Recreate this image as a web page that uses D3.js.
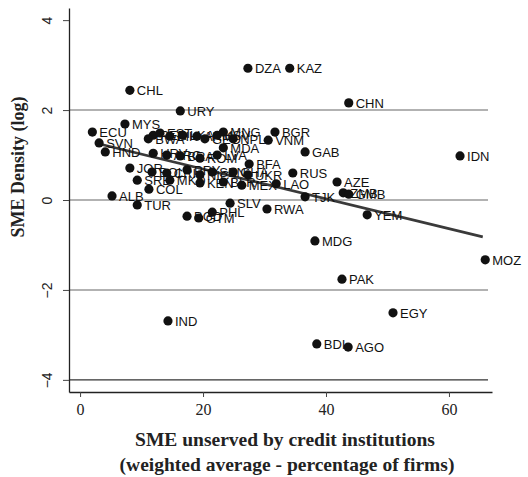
<!DOCTYPE html>
<html>
<head>
<meta charset="utf-8">
<script src="https://cdn.jsdelivr.net/npm/d3@7"></script>
<style>
  body { margin: 0; background: #fff; }
  .lbl { font-family: "Liberation Sans", Arial, sans-serif; font-size: 13px; fill: #111; }
  .ytick text { font-family: "Liberation Sans", Arial, sans-serif; font-size: 14px; fill: #222; }
  .xtick text { font-family: "Liberation Serif", serif; font-size: 16px; fill: #222; }
  .title { font-family: "Liberation Serif", "Times New Roman", serif; font-weight: bold; fill: #222; }
</style>
</head>
<body>
<svg id="chart" width="528" height="477"></svg>
<script>
//----------------
// Data
//----------------

const countries = [
  "CHL","DZA","KAZ","CHN","URY","MYS","ECU","SVN","HND","PER",
  "BWA","EST","BIH","LKA","ARM","GEO","KSV","MNG","NPL","VNM",
  "BGR","HRV","ARG","BRA","ROM","LVA","MDA","JOR","BOL","CRI",
  "PRY","NIC","SEN","GHA","BFA","UKR","RUS","SRB","MKD","KEN",
  "BLR","MEX","LAO","COL","ALB","TUR","BGD","GTM","PHL","SLV",
  "RWA","TJK","AZE","ZMB","GMB","YEM","GAB","IDN","MDG","MOZ",
  "PAK","EGY","IND","BDI","AGO"
];

// SME unserved by credit institutions (% of firms)
const unserved = [
  8.1, 27.3, 34.1, 43.7, 16.3, 7.3, 2.0, 3.1, 4.1, 11.9,
  11.1, 13.0, 14.6, 16.7, 19.0, 20.3, 22.3, 23.3, 24.9, 30.6,
  31.7, 11.9, 14.1, 16.3, 19.5, 22.3, 23.3, 8.1, 11.7, 14.1,
  17.4, 19.5, 21.5, 24.9, 27.5, 27.3, 34.6, 9.3, 14.6, 19.5,
  23.3, 26.3, 31.9, 11.2, 5.2, 9.3, 17.4, 19.3, 21.5, 24.4,
  30.4, 36.6, 41.8, 42.8, 43.7, 46.7, 36.6, 61.8, 38.2, 65.9,
  42.6, 50.9, 14.3, 38.5, 43.6
];

// SME density (log)
const density = [
  2.44, 2.93, 2.93, 2.16, 1.98, 1.69, 1.51, 1.27, 1.07, 1.44,
  1.36, 1.49, 1.42, 1.44, 1.42, 1.36, 1.44, 1.51, 1.36, 1.33,
  1.51, 1.04, 1.00, 0.98, 0.93, 1.00, 1.16, 0.71, 0.62, 0.60,
  0.67, 0.56, 0.62, 0.62, 0.80, 0.56, 0.60, 0.44, 0.44, 0.38,
  0.40, 0.33, 0.36, 0.24, 0.09, -0.11, -0.36, -0.40, -0.27, -0.07,
  -0.20, 0.07, 0.40, 0.16, 0.13, -0.33, 1.07, 0.98, -0.91, -1.33,
  -1.76, -2.51, -2.69, -3.20, -3.27
];

// fitted line end points
const fitX = [2.5, 65.5];
const fitY = [1.27, -0.82];

const xTicks = [0, 20, 40, 60];
const yTicks = [-4, -2, 0, 2, 4];
const gridValues = [2, 0, -2, -4];

//----------------
// Scales
//----------------

const x = d3.scaleLinear().domain([-1.8, 67]).range([69, 492]);
const y = d3.scaleLinear().domain([-4.27, 4.27]).range([392, 8]);

const svg = d3.select("#chart");

// horizontal reference lines
svg.append("g").selectAll("line")
  .data(gridValues)
  .enter().append("line")
    .attr("x1", x.range()[0])
    .attr("x2", 488)
    .attr("y1", d => y(d))
    .attr("y2", d => y(d))
    .attr("stroke", d => d == -4 ? "#333" : "#666")
    .attr("stroke-width", d => d == -4 ? 1.3 : 1.1);

// y axis
const yAxis = svg.append("g")
  .attr("class", "ytick")
  .attr("transform", "translate(" + x.range()[0] + ",0)")
  .call(d3.axisLeft(y).tickValues(yTicks).tickSize(6).tickSizeOuter(0)
    .tickFormat(d => d < 0 ? "\u2212" + Math.abs(d) : d));
yAxis.select(".domain").attr("stroke", "#222").attr("stroke-width", 1.3);
yAxis.selectAll(".tick line").attr("stroke", "#444");
yAxis.selectAll(".tick text")
  .attr("x", 0).attr("dy", 0)
  .attr("text-anchor", "middle")
  .attr("transform", "translate(-17,0) rotate(-90)");

// x axis
const xAxis = svg.append("g")
  .attr("class", "xtick")
  .attr("transform", "translate(0," + y.range()[0] + ")")
  .call(d3.axisBottom(x).tickValues(xTicks).tickSize(5).tickSizeOuter(0));
xAxis.select(".domain").attr("stroke", "#222").attr("stroke-width", 1.3);
xAxis.selectAll(".tick line").attr("stroke", "#444");
xAxis.selectAll(".tick text").attr("y", 12);

// fitted line
svg.append("line")
  .attr("x1", x(fitX[0])).attr("y1", y(fitY[0]))
  .attr("x2", x(fitX[1])).attr("y2", y(fitY[1]))
  .attr("stroke", "#3a3a3a")
  .attr("stroke-width", 2.6);

// points
const pts = svg.append("g");
pts.selectAll("circle")
  .data(countries)
  .enter().append("circle")
    .attr("cx", (_, i) => x(unserved[i]))
    .attr("cy", (_, i) => y(density[i]))
    .attr("r", 4.6)
    .attr("fill", "#111");

pts.selectAll("text")
  .data(countries)
  .enter().append("text")
    .attr("class", "lbl")
    .attr("x", (_, i) => x(unserved[i]) + 7)
    .attr("y", (_, i) => y(density[i]))
    .attr("dy", "0.38em")
    .text(d => d);

// titles
svg.append("text")
  .attr("class", "title")
  .style("font-size", "18px")
  .attr("transform", "translate(24,167) rotate(-90)")
  .attr("text-anchor", "middle")
  .text("SME Density (log)");

svg.append("text")
  .attr("class", "title")
  .style("font-size", "19.5px")
  .attr("x", 285).attr("y", 446)
  .attr("text-anchor", "middle")
  .text("SME unserved by credit institutions");

svg.append("text")
  .attr("class", "title")
  .style("font-size", "19.5px")
  .attr("x", 287).attr("y", 471)
  .attr("text-anchor", "middle")
  .text("(weighted average - percentage of firms)");
</script>
</body>
</html>
